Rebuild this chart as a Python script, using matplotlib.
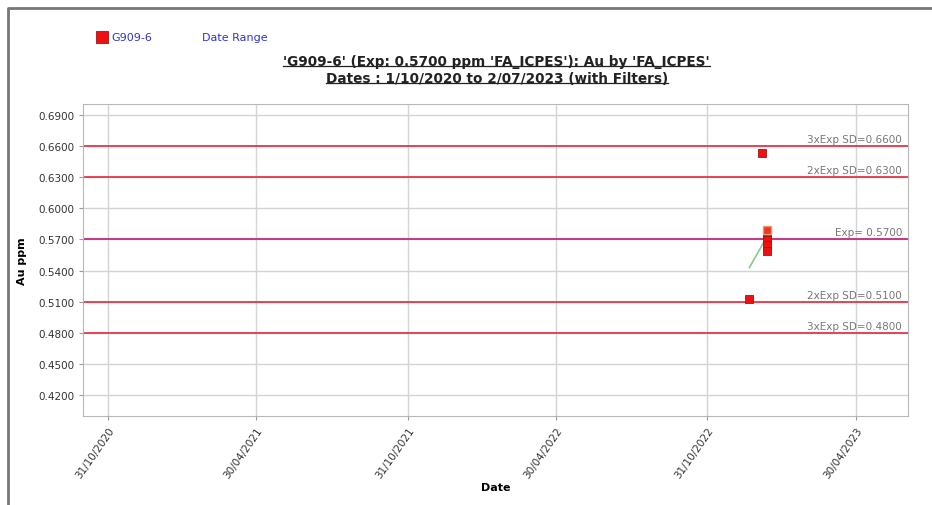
import matplotlib
matplotlib.use("Agg")
import matplotlib.pyplot as plt
import matplotlib.dates as mdates
from matplotlib.lines import Line2D
import pandas as pd

# sample results (G909-6, Au ppm)
sample_dates = ["2022-12-21", "2023-01-05", "2023-01-11", "2023-01-11",
                "2023-01-11", "2023-01-11", "2023-01-11"]
sample_vals = [0.5131, 0.6535, 0.5794, 0.5746, 0.5699, 0.5650, 0.5592]

# green trend line
trend_dates = ["2022-12-21", "2023-01-10"]
trend_vals = [0.5429, 0.5708]

# control lines
ctrl_vals = [0.66, 0.63, 0.57, 0.51, 0.48]
ctrl_labels = ["3xExp SD=0.6600", "2xExp SD=0.6300", "Exp= 0.5700",
               "2xExp SD=0.5100", "3xExp SD=0.4800"]
ctrl_colors = ["#e2384a", "#e2384a", "#c8287e", "#e2384a", "#e2384a"]

yticks = [0.69, 0.66, 0.63, 0.60, 0.57, 0.54, 0.51, 0.48, 0.45, 0.42]
xtick_dates = ["2020-10-31", "2021-04-30", "2021-10-31", "2022-04-30",
               "2022-10-31", "2023-04-30"]
date_start = "2020-10-01"
date_end = "2023-07-02"

fig = plt.figure(figsize=(9.32, 5.06), dpi=100)
ax = fig.add_axes([0.0891, 0.1759, 0.8851, 0.6166])

sd = pd.to_datetime(sample_dates)
td = pd.to_datetime(trend_dates)

for v, c in zip(ctrl_vals, ctrl_colors):
    ax.axhline(v, color=c, lw=1.3, zorder=2)
for v, lab in zip(ctrl_vals, ctrl_labels):
    ax.text(0.993, v + 0.002, lab, transform=ax.get_yaxis_transform(),
            ha="right", va="bottom", fontsize=7.5, color="#777777")

ax.plot(td, trend_vals, color="#88cc88", lw=1.2, zorder=3)
pts = ax.scatter(sd, sample_vals, marker="s", s=30, color="#ee1111",
                 edgecolors="#aa1111", linewidths=0.6, zorder=4)
ax.scatter(sd[2:3], sample_vals[2:3], marker="s", s=30, color="#ee3333",
           edgecolors="#e0a060", linewidths=1.0, zorder=5)

ax.set_xlim(pd.Timestamp(date_start), pd.Timestamp(date_end))
ax.set_ylim(0.40, 0.7005)
ax.set_yticks(yticks)
ax.yaxis.set_major_formatter(plt.FormatStrFormatter("%.4f"))
ax.set_xticks(pd.to_datetime(xtick_dates))
ax.xaxis.set_major_formatter(mdates.DateFormatter("%d/%m/%Y"))
plt.setp(ax.get_xticklabels(), rotation=55, ha="right", rotation_mode="anchor")
ax.tick_params(labelsize=7.5, labelcolor="#333333", color="#999999", length=3)
ax.grid(True, color="#d4d4d4", lw=1)
ax.set_axisbelow(True)
for s in ax.spines.values():
    s.set_color("#b8b8b8")

ax.set_xlabel("Date", fontsize=8, fontweight="bold", labelpad=2)
ax.set_ylabel("Au ppm", fontsize=8, fontweight="bold", labelpad=8)

# title with underline
t1 = fig.text(0.533, 0.877, "'G909-6' (Exp: 0.5700 ppm 'FA_ICPES'): Au by 'FA_ICPES'",
              ha="center", va="center", fontsize=9.8, fontweight="bold", color="#222222")
t2 = fig.text(0.533, 0.843, "Dates : 1/10/2020 to 2/07/2023 (with Filters)",
              ha="center", va="center", fontsize=9.8, fontweight="bold", color="#222222")
fig.canvas.draw()
r = fig.canvas.get_renderer()
for t in (t1, t2):
    bb = t.get_window_extent(r).transformed(fig.transFigure.inverted())
    fig.add_artist(Line2D([bb.x0, bb.x1], [bb.y0 + 0.004, bb.y0 + 0.004],
                          transform=fig.transFigure, color="#222222", lw=0.9))

# legend
h_date = Line2D([], [], linestyle="none")
leg = fig.legend([pts, h_date], ["G909-6", "Date Range"], loc="upper left",
                 bbox_to_anchor=(0.093, 0.955), ncol=2, frameon=False,
                 fontsize=8, handletextpad=0.3, columnspacing=3.2,
                 markerscale=1.6, handlelength=1.0)
for txt in leg.get_texts():
    txt.set_color("#3333cc")

# outer frame
fig.add_artist(Line2D([0.0086, 0.0086, 1.0], [0.0, 0.983, 0.983],
                      transform=fig.transFigure, color="#777777", lw=2))

fig.savefig("out.png", dpi=100)
